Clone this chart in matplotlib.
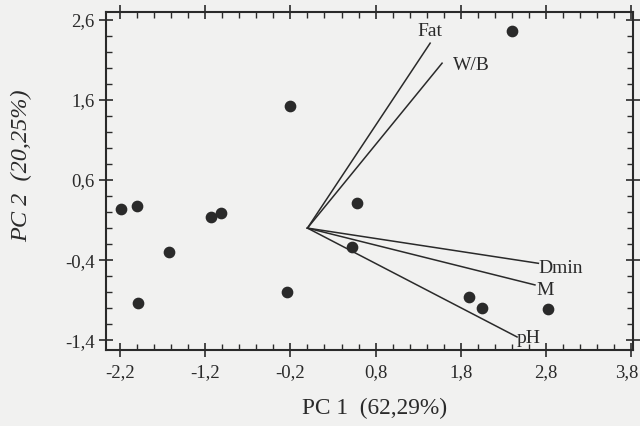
import matplotlib
matplotlib.use("Agg")
import matplotlib.pyplot as plt
from matplotlib.ticker import FixedLocator
import matplotlib.transforms as mtrans

# Scores (samples)
pc1_scores = [2.40, -0.20, 0.58, -2.19, -2.00, -1.13, -1.01, -1.625, -1.99, -0.24, 0.52, 1.90, 2.05, 2.82]
pc2_scores = [2.46, 1.525, 0.31, 0.24, 0.275, 0.14, 0.19, -0.30, -0.94, -0.80, -0.24, -0.86, -1.00, -1.01]

# Loadings (variables)
var_names = ["Fat", "W/B", "Dmin", "M", "pH"]
load_pc1 = [1.44, 1.58, 2.71, 2.67, 2.46]
load_pc2 = [2.31, 2.06, -0.44, -0.71, -1.36]

xticks = [-2.2, -1.2, -0.2, 0.8, 1.8, 2.8, 3.8]
yticks = [-1.4, -0.4, 0.6, 1.6, 2.6]

def comma(v):
    return f"{v:.1f}".replace(".", ",")

plt.rcParams['font.family'] = ['Liberation Serif', 'DejaVu Serif']
bg = '#f1f1f0'
fig = plt.figure(figsize=(6.4, 4.26), dpi=100, facecolor=bg)
ax = fig.add_axes([0.1656, 0.178, 0.8234, 0.794])
ax.set_facecolor(bg)

ink = '#2a2a2a'
ax.scatter(pc1_scores, pc2_scores, s=55, color=ink, zorder=3)
for name, lx, ly in zip(var_names, load_pc1, load_pc2):
    ax.plot([0, lx], [0, ly], color=ink, lw=1.1)

offsets = {"Fat": (0, 2, 'center', 'bottom'),
           "W/B": (8, -2, 'left', 'center'),
           "Dmin": (0, -4, 'left', 'center'),
           "M": (1, -4, 'left', 'center'),
           "pH": (0, -1, 'left', 'center')}
for name, lx, ly in zip(var_names, load_pc1, load_pc2):
    dx, dy, ha, va = offsets[name]
    ax.annotate(name, (lx, ly), xytext=(dx, dy), textcoords='offset points',
                ha=ha, va=va, fontsize=14, color=ink)

ax.set_xlim(-2.364, 3.82)
ax.set_ylim(-1.525, 2.70)
ax.xaxis.set_major_locator(FixedLocator(xticks))
ax.yaxis.set_major_locator(FixedLocator(yticks))
ax.set_xticklabels([comma(v) for v in xticks])
ax.set_yticklabels([comma(v) for v in yticks])
ax.xaxis.set_minor_locator(FixedLocator([-2.2 + 0.2 * i for i in range(-1, 32)]))
ax.yaxis.set_minor_locator(FixedLocator([-1.4 + 0.2 * i for i in range(-1, 22)]))
ax.tick_params(which='major', direction='inout', length=10, width=1.2, color=ink,
               top=True, right=True, labelsize=13.5, labelcolor=ink)
ax.tick_params(axis='y', which='major', pad=3)
ax.tick_params(axis='x', which='major', pad=5)
ax.tick_params(which='minor', direction='in', length=4, width=1.0, color=ink,
               top=True, right=True)
for s in ax.spines.values():
    s.set_linewidth(1.5)
    s.set_color(ink)

ax.set_xlabel("PC 1  (62,29%)", fontsize=16.8, color=ink)
ax.xaxis.set_label_coords(0.509, -0.142)
ax.set_ylabel("PC 2  (20,25%)", fontsize=17.5, color=ink, style='italic')
ax.yaxis.set_label_coords(-0.140, 0.545)

fig.canvas.draw()
t = ax.get_xticklabels()[-1]
t.set_transform(t.get_transform() + mtrans.ScaledTranslation(-3/72, 0, fig.dpi_scale_trans))

fig.savefig("out.png", dpi=100, facecolor=bg)
